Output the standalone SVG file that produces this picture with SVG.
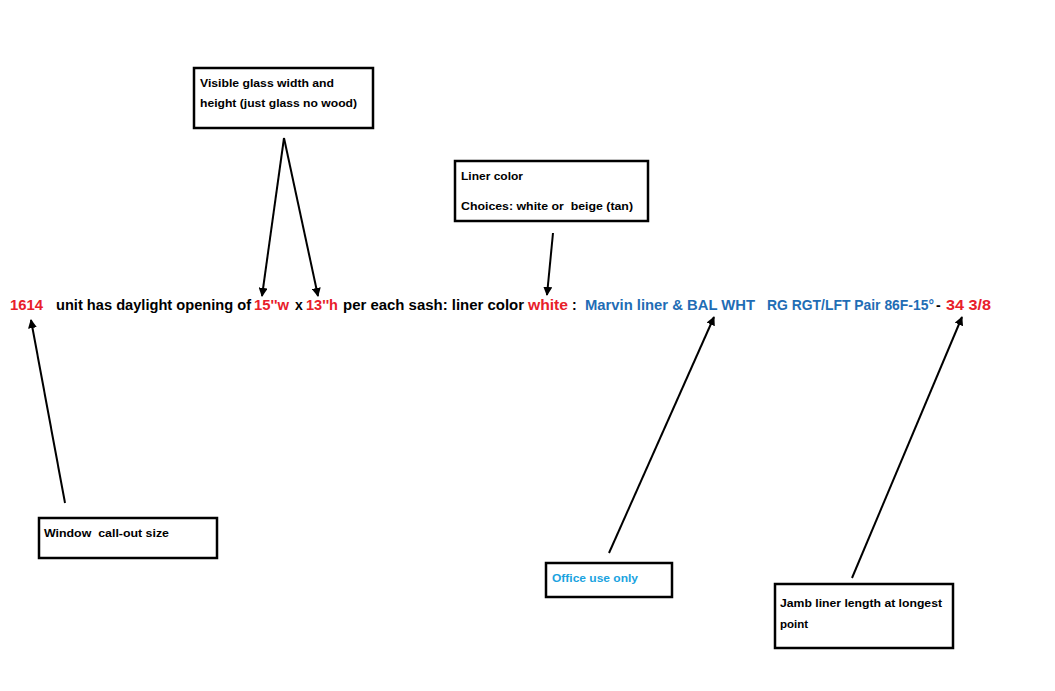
<svg xmlns="http://www.w3.org/2000/svg" width="1055" height="691" viewBox="0 0 1055 691">
<style>
.box{fill:#fff;stroke:#000;stroke-width:2.5}
.bt{font-family:"Liberation Sans",Arial,sans-serif;font-weight:bold;font-size:11.5px;fill:#000;white-space:pre}
.mt{font-family:"Liberation Sans",Arial,sans-serif;font-weight:bold;font-size:14px}
.k{fill:#000}.r{fill:#e8202a}.b{fill:#1f6db5}
.con{stroke:#000;stroke-width:2;fill:none;marker-end:url(#ah)}
</style>
<defs>
<marker id="ah" viewBox="0 0 10 10" refX="9" refY="5" markerWidth="4.5" markerHeight="4.5" orient="auto" markerUnits="strokeWidth">
<path d="M0,0 L10,5 L0,10 z" fill="#000"/>
</marker>
</defs>
<rect width="1055" height="691" fill="#fff"/>
<g id="main-line">
<text class="mt" y="310">
<tspan class="r" x="10" textLength="33" lengthAdjust="spacingAndGlyphs">1614</tspan>
<tspan class="k" x="56" textLength="195" lengthAdjust="spacingAndGlyphs">unit has daylight opening of</tspan>
<tspan class="r" x="254" textLength="35" lengthAdjust="spacingAndGlyphs">15''w</tspan>
<tspan class="k" x="295">x</tspan>
<tspan class="r" x="306" textLength="32" lengthAdjust="spacingAndGlyphs">13''h</tspan>
<tspan class="k" x="343" textLength="181" lengthAdjust="spacingAndGlyphs">per each sash: liner color</tspan>
<tspan class="r" x="528" textLength="40" lengthAdjust="spacingAndGlyphs">white</tspan>
<tspan class="k" x="572">:</tspan>
<tspan class="b" x="585" textLength="170" lengthAdjust="spacingAndGlyphs">Marvin liner &amp; BAL WHT</tspan>
<tspan class="b" x="767" textLength="167" lengthAdjust="spacingAndGlyphs">RG RGT/LFT Pair 86F-15°</tspan>
<tspan class="k" x="936">-</tspan>
<tspan class="r" x="946" textLength="45" lengthAdjust="spacingAndGlyphs">34 3/8</tspan>
</text>
</g>
<g id="connectors">
<line class="con" x1="284" y1="138" x2="262" y2="296"/>
<line class="con" x1="284" y1="138" x2="318" y2="296"/>
<line class="con" x1="553" y1="233" x2="547" y2="295"/>
<line class="con" x1="65" y1="503" x2="31" y2="320"/>
<line class="con" x1="609" y1="553" x2="714" y2="317"/>
<line class="con" x1="852" y1="578" x2="962" y2="317"/>
</g>
<g id="node-glass">
<rect class="box" x="194" y="68" width="179" height="60"/>
<text class="bt" x="200" y="87" textLength="134" lengthAdjust="spacingAndGlyphs">Visible glass width and</text>
<text class="bt" x="200" y="107" textLength="157" lengthAdjust="spacingAndGlyphs">height (just glass no wood)</text>
</g>
<g id="node-liner">
<rect class="box" x="455" y="161" width="193" height="60"/>
<text class="bt" x="461" y="180" textLength="62" lengthAdjust="spacingAndGlyphs">Liner color</text>
<text class="bt" x="461" y="210" textLength="172" lengthAdjust="spacingAndGlyphs" xml:space="preserve">Choices: white or  beige (tan)</text>
</g>
<g id="node-window">
<rect class="box" x="39" y="518" width="178" height="40"/>
<text class="bt" x="44" y="537" textLength="125" lengthAdjust="spacingAndGlyphs" xml:space="preserve">Window  call-out size</text>
</g>
<g id="node-office">
<rect class="box" x="546" y="563" width="126" height="34"/>
<text class="bt" x="552" y="582" textLength="86" lengthAdjust="spacingAndGlyphs" style="fill:#1aa3e0">Office use only</text>
</g>
<g id="node-jamb">
<rect class="box" x="775" y="584" width="178" height="64"/>
<text class="bt" x="780" y="607" textLength="162" lengthAdjust="spacingAndGlyphs">Jamb liner length at longest</text>
<text class="bt" x="780" y="628">point</text>
</g>
</svg>
